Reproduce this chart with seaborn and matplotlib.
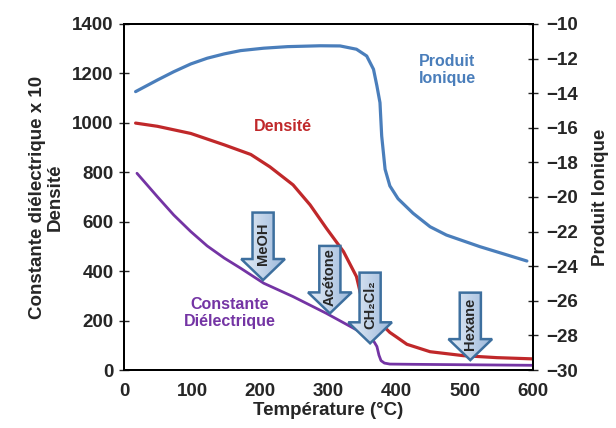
import numpy as np
import pandas as pd
import seaborn as sns
import matplotlib.pyplot as plt
from matplotlib.patches import FancyArrow
from matplotlib.colors import LinearSegmentedColormap

# ionic product (right axis)
t_ion = [17, 49, 73, 98, 122, 147, 171, 205, 240, 288, 317, 341, 356, 366, 371, 375.5,
         378, 383, 390, 402, 424, 449, 473, 522, 591]
ion = [-13.91, -13.24, -12.76, -12.31, -11.98, -11.73, -11.54, -11.40, -11.31, -11.26,
       -11.27, -11.46, -11.85, -12.62, -13.58, -14.55, -16.47, -18.40, -19.36, -20.1,
       -20.94, -21.72, -22.2, -22.87, -23.7]

# density
t_dens = [17, 49, 98, 147, 186, 214, 248, 273, 297, 322, 341, 351, 362, 376, 390,
          400, 415, 449, 498, 547, 600]
dens = [999, 986, 957, 911, 872, 822, 749, 668, 573, 479, 378, 262, 225, 190, 152,
        133, 104, 74, 58, 50, 45]

# dielectric constant x 10
t_diel = [19, 49, 73, 98, 122, 147, 171, 205, 248, 297, 346, 366, 371, 374, 377, 382,
          390, 424, 600]
diel = [796, 701, 627, 560, 502, 453, 412, 351, 297, 229, 155, 118, 95, 60, 38, 28,
        24, 23, 19]

# solvent arrows: centre x, top y, tip y
solvents = ["MeOH", "Acétone", "CH₂Cl₂", "Hexane"]
arrow_x = [204, 302, 361, 508]
arrow_top = [637, 502, 394, 313]
arrow_tip = [364, 229, 108, 40]

blue = "#4a7ebb"
red = "#c0282a"
purple = "#7434a4"

sns.set_style("white")
plt.rcParams["font.family"] = ["Liberation Sans", "DejaVu Sans"]
plt.rcParams["font.weight"] = "bold"

fig = plt.figure(figsize=(6.16, 4.28), dpi=100)
ax = fig.add_axes([0.2013, 0.1355, 0.664, 0.8085])
ax2 = ax.twinx()

sns.lineplot(x=t_dens, y=dens, ax=ax, color=red, lw=2.3)
sns.lineplot(x=t_diel, y=diel, ax=ax, color=purple, lw=2.0)
sns.lineplot(x=t_ion, y=ion, ax=ax2, color=blue, lw=2.3)

ax.set_xlim(0, 600)
ax.set_ylim(0, 1400)
ax2.set_ylim(-30, -10)
ax.set_xticks(range(0, 601, 100))
ax.set_yticks(range(0, 1401, 200))
ax2.set_yticks(range(-30, -9, 2))

for a in (ax, ax2):
    for s in a.spines.values():
        s.set_color("black")
        s.set_linewidth(1.4)
ax.tick_params(axis="y", direction="inout", length=7, width=1, labelsize=13.5, pad=4)
ax.tick_params(axis="x", direction="out", length=5, width=1, labelsize=13.5, pad=4)
ax2.tick_params(axis="y", direction="inout", length=7, width=1, labelsize=13.5, pad=6)
for lab in ax.get_xticklabels() + ax.get_yticklabels() + ax2.get_yticklabels():
    lab.set_fontweight("bold")

ax.set_xlabel("Température (°C)", fontsize=13.5, fontweight="bold", labelpad=2)
ax.set_ylabel("Constante diélectrique x 10\nDensité", fontsize=13.5, fontweight="bold",
              labelpad=6, linespacing=1.05)
ax2.set_ylabel("Produit Ionique", fontsize=13.5, fontweight="bold", labelpad=10)

ax.text(233, 985, "Densité", color=red, fontsize=11.5, fontweight="bold", ha="center", va="center")
ax.text(474, 1214, "Produit\nIonique", color=blue, fontsize=11.5, fontweight="bold",
        ha="center", va="center", linespacing=1.2)
ax.text(155, 230, "Constante\nDiélectrique", color=purple, fontsize=11.5, fontweight="bold",
        ha="center", va="center", linespacing=1.2)

# gradient-filled block arrows
grad = np.linspace(0, 1, 64).reshape(1, -1)
cmap = LinearSegmentedColormap.from_list("fill", ["#e6eef7", "#9cb8db"])
for name, x, top, tip in zip(solvents, arrow_x, arrow_top, arrow_tip):
    length = top - tip
    arr = FancyArrow(x, top, 0, -length, width=31, head_width=64, head_length=85,
                     length_includes_head=True, facecolor="none", edgecolor="#3d6f9e",
                     lw=1.8, zorder=5)
    ax.add_patch(arr)
    im = ax.imshow(grad, cmap=cmap, aspect="auto", extent=[x - 32, x + 32, tip, top],
                   zorder=4)
    im.set_clip_path(arr)
    ax.text(x, top - 0.46 * length, name, rotation=90, fontsize=10.5, fontweight="bold",
            ha="center", va="center", zorder=6)

ax.set_xlim(0, 600)
ax.set_ylim(0, 1400)
ax.set_zorder(ax2.get_zorder() + 1)
ax.patch.set_visible(False)

plt.savefig("out.png", dpi=100)
